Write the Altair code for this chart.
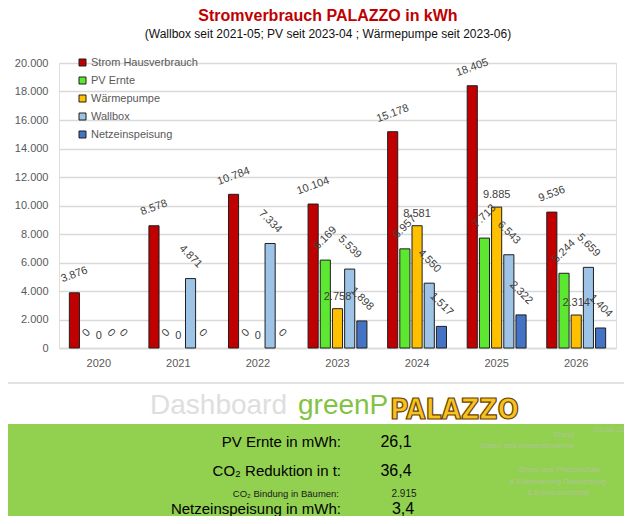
import altair as alt
import pandas as pd

years = ["2020", "2021", "2022", "2023", "2024", "2025", "2026"]
series = ["Strom Hausverbrauch", "PV Ernte", "Wärmepumpe", "Wallbox", "Netzeinspeisung"]
colors = ["#C00000", "#5CE830", "#FFC000", "#9DC3E6", "#4472C4"]

haus = [3876, 8578, 10784, 10104, 15178, 18405, 9536]
pv = [0, 0, 0, 6169, 6957, 7713, 5244]
wp = [0, 0, 0, 2758, 8581, 9885, 2314]
wallbox = [0, 4871, 7334, 5539, 4550, 6543, 5659]
netz = [0, 0, 0, 1898, 1517, 2322, 1404]

title_text = "Stromverbrauch PALAZZO in kWh"
subtitle_text = "(Wallbox seit 2021-05; PV seit 2023-04 ; Wärmepumpe seit 2023-06)"
kpi_labels = ["PV Ernte in mWh:", "CO\u2082 Reduktion in t:", "CO\u2082 Bindung in Bäumen:", "Netzeinspeisung in mWh:"]
kpi_values = ["26,1", "36,4", "2.915", "3,4"]
side_texts = ["03.08.26", "Stand", "Daten seit Inbetriebnahme",
              "Strom aus Photovoltaik", "& Eliminierung Gasheizung", "& Elektromobilität"]

rows = []
for s, vals in zip(series, [haus, pv, wp, wallbox, netz]):
    for y, v in zip(years, vals):
        rows.append({"year": y, "series": s, "value": v})
df = pd.DataFrame(rows)

FONT = "Liberation Sans"
W, H = 557, 285

base = alt.Chart(df)

x_enc = alt.X("year:N", title=None,
              scale=alt.Scale(paddingInner=0.26, paddingOuter=0.13),
              axis=alt.Axis(labelAngle=0, ticks=False, labelPadding=9, labelFontSize=11,
                            labelColor="#595959", labelFont=FONT, domainColor="#D9D9D9",
                            domainWidth=1.5, grid=False))
xo_enc = alt.XOffset("series:N", sort=series,
                     scale=alt.Scale(domain=series, paddingInner=0.17, paddingOuter=0))
y_enc = alt.Y("value:Q", title=None,
              scale=alt.Scale(domain=[0, 20000], nice=False),
              axis=alt.Axis(values=list(range(0, 20001, 2000)), format=",d", ticks=False,
                            domain=False, labelPadding=11, labelFontSize=11,
                            labelColor="#595959", labelFont=FONT, labelOverlap=False,
                            gridColor="#D9D9D9", gridWidth=1.5))

bars = base.transform_filter("datum.value > 0").mark_bar(
    stroke="#1f1f1f", strokeWidth=1
).encode(
    x=x_enc, xOffset=xo_enc, y=y_enc,
    color=alt.Color("series:N", sort=series,
                    scale=alt.Scale(domain=series, range=colors),
                    legend=alt.Legend(title=None, orient="none", legendX=18, legendY=-6,
                                      symbolType="square", symbolSize=49,
                                      symbolStrokeColor="#1f1f1f", symbolStrokeWidth=1,
                                      labelFontSize=11, labelColor="#595959", labelFont=FONT,
                                      rowPadding=6, labelOffset=3)),
)

def labels(filter_expr, angle, yoff):
    return base.transform_filter(filter_expr).mark_text(
        angle=angle, align="center", baseline="middle", fontSize=11, font=FONT,
        color="#404040", yOffset=yoff
    ).encode(x=x_enc, xOffset=xo_enc, y=y_enc,
             text=alt.Text("value:Q", format=",d"))

lab_layers = [
    labels("datum.series == 'Strom Hausverbrauch'", 340, -18),
    labels("datum.series == 'PV Ernte' && datum.value > 0", 315, -22),
    labels("datum.series == 'PV Ernte' && datum.value == 0", 315, -15),
    labels("datum.series == 'Wärmepumpe'", 0, -12),
    labels("(datum.series == 'Wallbox' || datum.series == 'Netzeinspeisung') && datum.value > 0", 45, -22),
    labels("(datum.series == 'Wallbox' || datum.series == 'Netzeinspeisung') && datum.value == 0", 45, -15),
]

def ann(text, x, y, size, color="#000000", align="center", weight="normal", font=FONT,
        baseline="middle", **kw):
    return alt.Chart(pd.DataFrame({"t": [text]})).mark_text(
        align=align, baseline=baseline, fontSize=size, color=color, fontWeight=weight,
        font=font, **kw
    ).encode(x=alt.value(x), y=alt.value(y), text="t:N")

one = pd.DataFrame({"k": [0]})
green = alt.Chart(one).mark_rect(color="#92D050").encode(
    x=alt.value(-51), x2=alt.value(565), y=alt.value(361), y2=alt.value(453))
sep = alt.Chart(one).mark_rule(color="#D9D9D9", strokeWidth=1.5).encode(
    x=alt.value(-51), x2=alt.value(565), y=alt.value(320))

faint = "#AFC596"
annotations = [
    ann(title_text, 269, -42, 16, color="#C00000", weight="bold", baseline="alphabetic"),
    ann(subtitle_text, 269, -29, 12, color="#111111"),
    ann("Dashboard", 228, 351, 28, color="#DEDEDE", align="right", baseline="alphabetic"),
    ann("greenP", 239, 351, 28, color="#82C341", align="left", baseline="alphabetic"),
    ann("PALAZZO", 331, 356, 28, color="#F7C21E", align="left", baseline="alphabetic",
        weight="bold", font="Liberation Sans Narrow, DejaVu Sans Condensed, sans-serif",
        stroke="#6B4200", strokeWidth=1.2),
    ann(kpi_labels[0], 282, 379, 15, align="right"),
    ann(kpi_values[0], 337, 379, 16),
    ann(kpi_labels[1], 282, 408, 15, align="right"),
    ann(kpi_values[1], 337, 408, 16),
    ann(kpi_labels[2], 280, 431, 9.5, color="#1a1a1a", align="right"),
    ann(kpi_values[2], 345, 431, 10, color="#1a1a1a"),
    ann(kpi_labels[3], 282, 446, 15, align="right"),
    ann(kpi_values[3], 344, 446, 16),
    ann(side_texts[0], 550, 367, 8, color=faint),
    ann(side_texts[1], 515, 372, 8, color=faint, align="right"),
    ann(side_texts[2], 515, 383, 8, color=faint, align="right"),
    ann(side_texts[3], 500, 407, 8, color=faint),
    ann(side_texts[4], 498.5, 419, 8, color=faint),
    ann(side_texts[5], 499, 430, 8, color=faint),
]

chart = alt.layer(green, sep, bars, *lab_layers, *annotations).properties(
    width=W, height=H,
    autosize=alt.AutoSizeParams(type="none"),
    padding={"left": 51, "top": 55, "right": 8, "bottom": 168},
).configure_view(stroke=None).configure(
    locale={"number": {"decimal": ",", "thousands": ".", "grouping": [3],
                       "currency": ["", "\u00a0€"]}},
    background="white",
)

chart.save("out.html", embed_options={"renderer": "svg", "actions": False})
